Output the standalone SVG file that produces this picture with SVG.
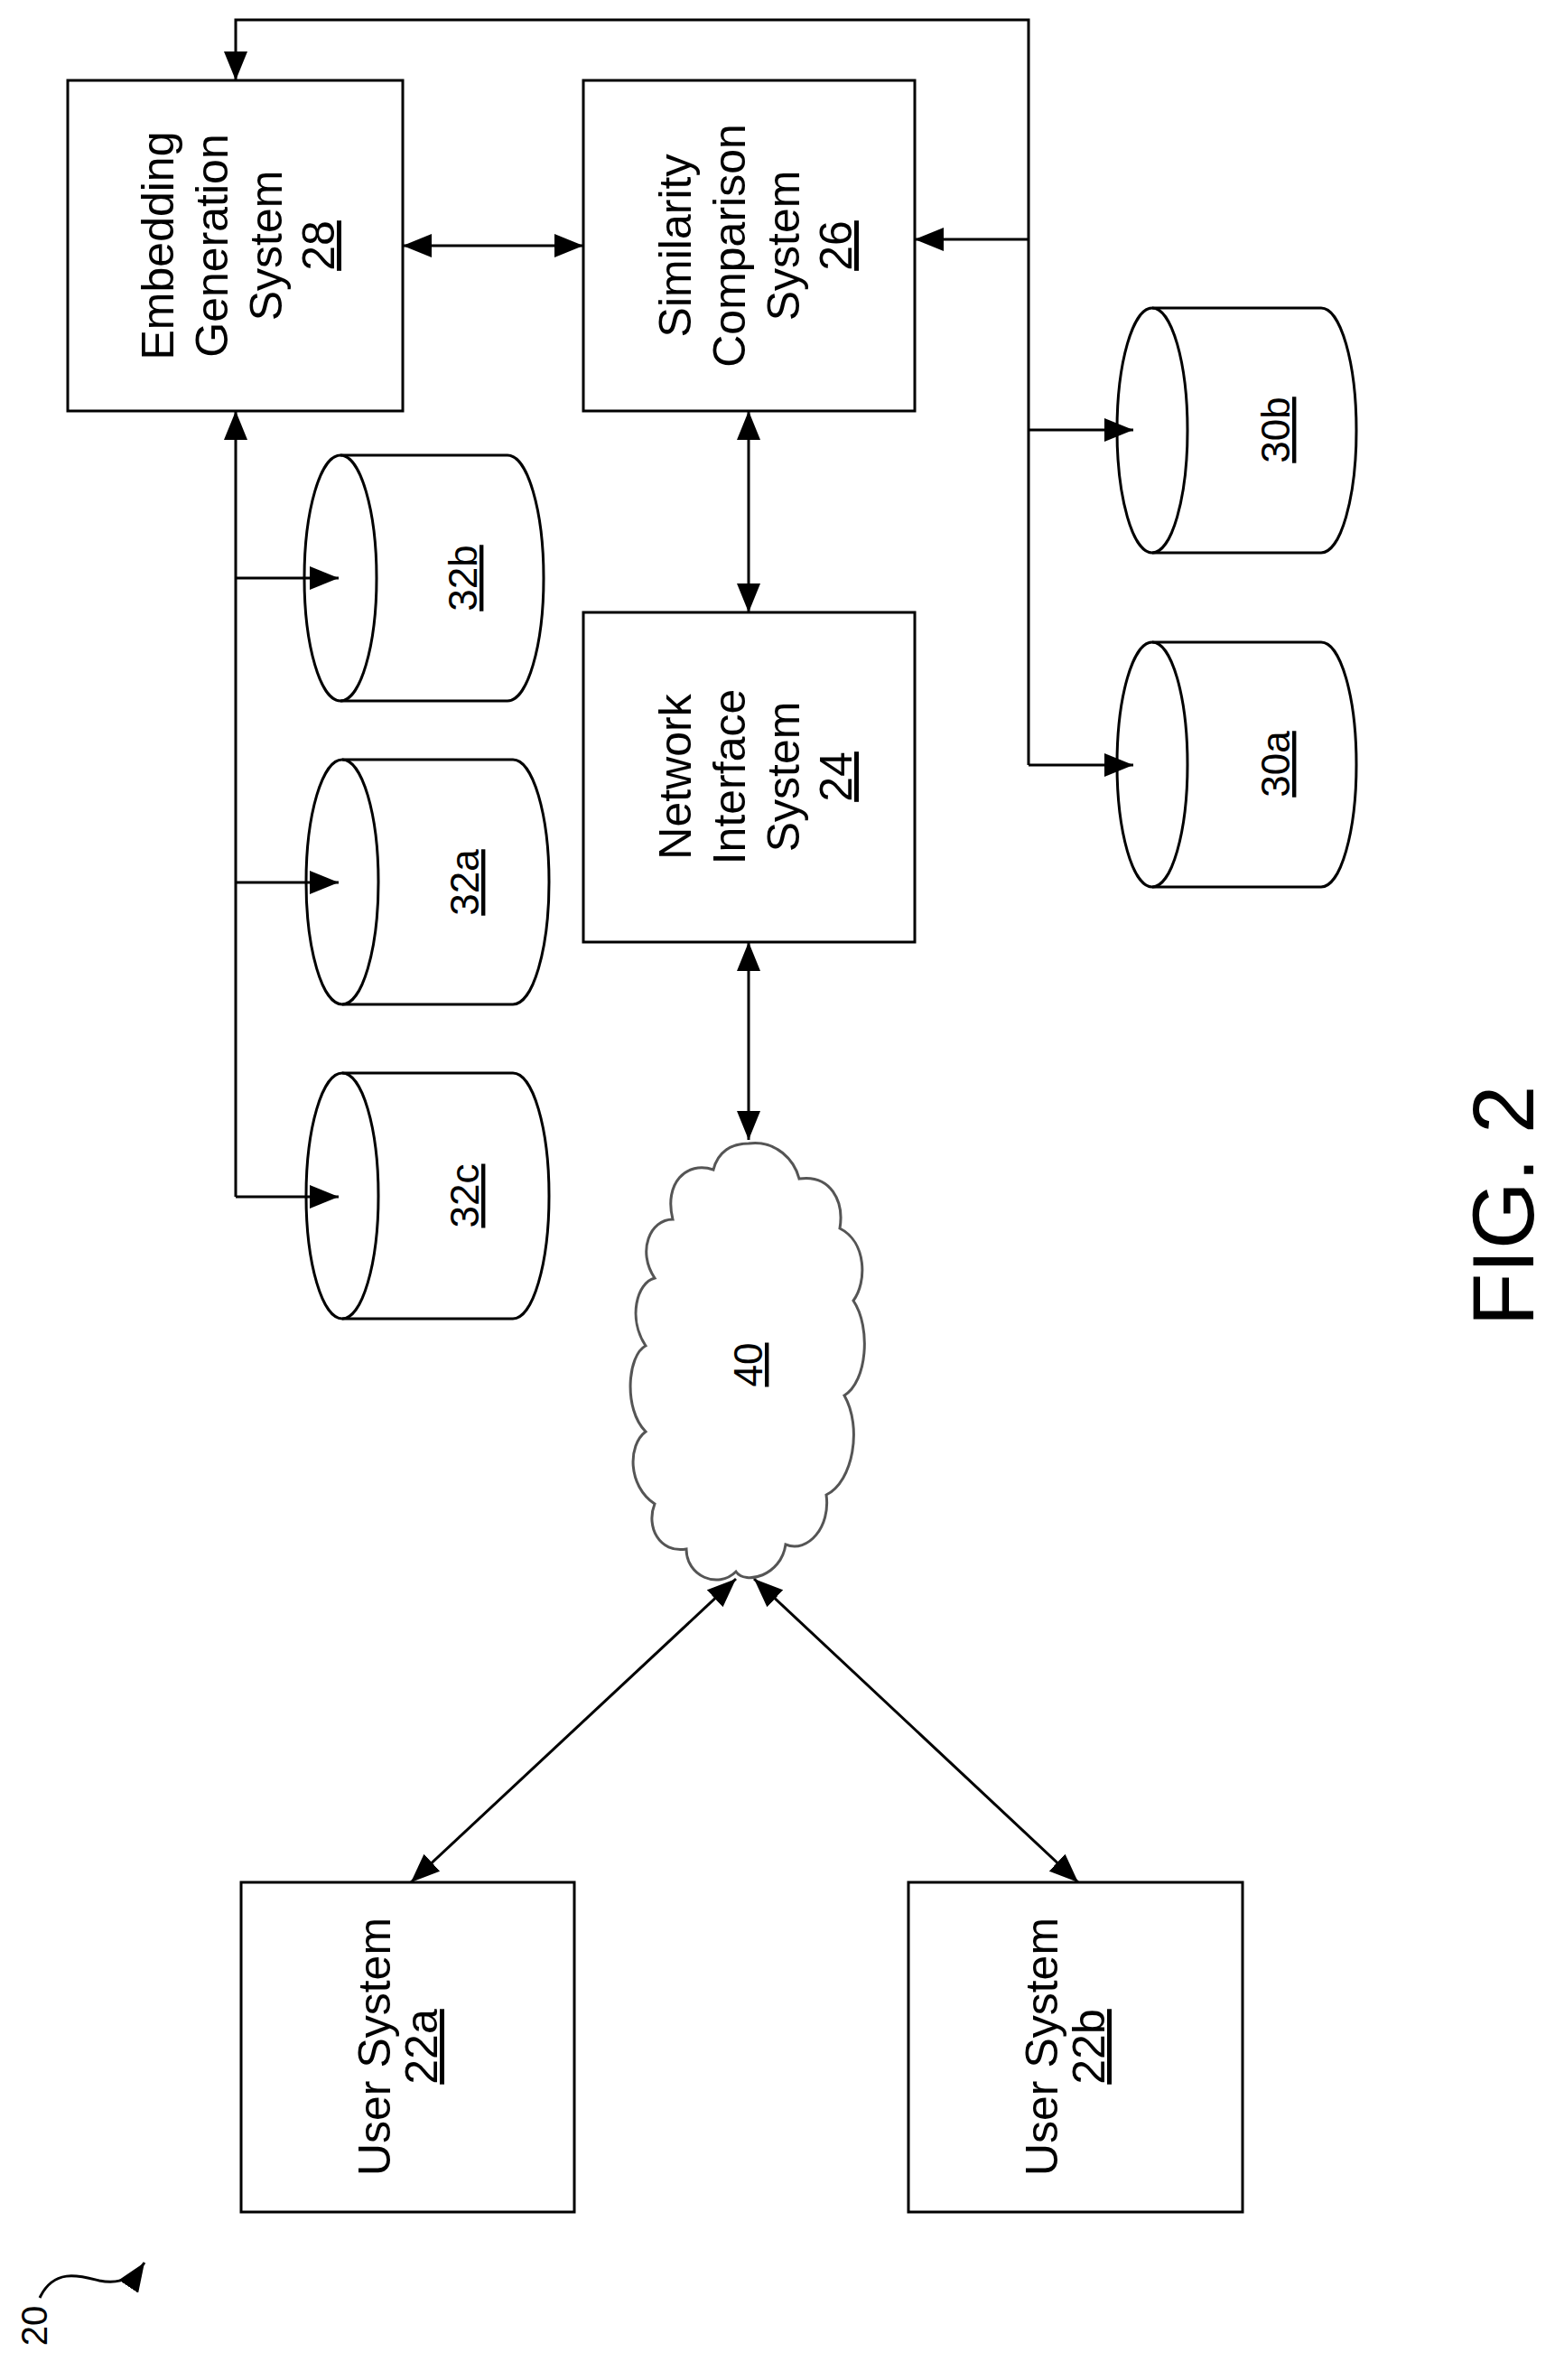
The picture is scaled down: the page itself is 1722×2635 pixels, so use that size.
<svg xmlns="http://www.w3.org/2000/svg" width="1722" height="2635" viewBox="0 0 1722 2635">
<defs>
<marker id="ah" viewBox="0 0 32 26" refX="32" refY="13" markerWidth="32" markerHeight="26" markerUnits="userSpaceOnUse" orient="auto-start-reverse"><path d="M0,0 L32,13 L0,26 Z" fill="#000"/></marker>
</defs>
<style>
.b{fill:#fff;stroke:#000;stroke-width:3}
.c{fill:none;stroke:#000;stroke-width:3}
.t{font-family:"Liberation Sans",Arial,sans-serif;font-size:50px;text-anchor:middle;fill:#000}
.s{font-family:"Liberation Sans",Arial,sans-serif;font-size:44px;text-anchor:middle;fill:#000}
.u{text-decoration:underline}
.l{fill:none;stroke:#000;stroke-width:3}
</style>
<rect width="1722" height="2635" fill="#fff"/>
<g id="connectors">
<path class="l" d="M1139,847 V22 H261 V89" marker-end="url(#ah)"/>
<path class="l" d="M1139,265 H1013" marker-end="url(#ah)"/>
<path class="l" d="M1139,476 H1255" marker-end="url(#ah)"/>
<path class="l" d="M1139,847 H1255" marker-end="url(#ah)"/>
<path class="l" d="M446,272 H646" marker-start="url(#ah)" marker-end="url(#ah)"/>
<path class="l" d="M261,1325 V455" marker-end="url(#ah)"/>
<path class="l" d="M261,640 H375" marker-end="url(#ah)"/>
<path class="l" d="M261,977 H375" marker-end="url(#ah)"/>
<path class="l" d="M261,1325 H375" marker-end="url(#ah)"/>
<path class="l" d="M829,455 V678" marker-start="url(#ah)" marker-end="url(#ah)"/>
<path class="l" d="M829,1043 V1262" marker-start="url(#ah)" marker-end="url(#ah)"/>
<path class="l" d="M815,1748 L455,2084" marker-start="url(#ah)" marker-end="url(#ah)"/>
<path class="l" d="M835,1748 L1194,2084" marker-start="url(#ah)" marker-end="url(#ah)"/>
<path class="l" d="M44,2544 C60,2510 90,2520 110,2525 C135,2530 150,2520 160,2505" marker-end="url(#ah)"/>
</g>
<g id="n28"><rect class="b" x="75" y="89" width="371" height="366"/>
<g transform="translate(0,272) rotate(-90)"><text class="t" x="0" y="192">Embedding</text><text class="t" x="0" y="252">Generation</text><text class="t" x="0" y="312">System</text><text class="t u" x="0" y="370">28</text></g></g>
<g id="n26"><rect class="b" x="646" y="89" width="367" height="366"/>
<g transform="translate(0,272) rotate(-90)"><text class="t" x="0" y="765">Similarity</text><text class="t" x="0" y="825">Comparison</text><text class="t" x="0" y="885">System</text><text class="t u" x="0" y="943">26</text></g></g>
<g id="n24"><rect class="b" x="646" y="678" width="367" height="365"/>
<g transform="translate(0,860) rotate(-90)"><text class="t" x="0" y="765">Network</text><text class="t" x="0" y="825">Interface</text><text class="t" x="0" y="885">System</text><text class="t u" x="0" y="943">24</text></g></g>
<g id="n30b"><path class="c" d="M1276,341 H1463 A39,135.5 0 0 1 1463,612 H1276"/><ellipse class="c" cx="1276" cy="476.5" rx="39" ry="135.5"/>
<text class="s u" transform="translate(1428,476) rotate(-90)">30b</text></g>
<g id="n30a"><path class="c" d="M1276,711 H1463 A39,135.5 0 0 1 1463,982 H1276"/><ellipse class="c" cx="1276" cy="846.5" rx="39" ry="135.5"/>
<text class="s u" transform="translate(1428,846) rotate(-90)">30a</text></g>
<g id="n32b"><path class="c" d="M377,504 H562 A40,136 0 0 1 562,776 H377"/><ellipse class="c" cx="377" cy="640" rx="40" ry="136"/>
<text class="s u" transform="translate(528,640) rotate(-90)">32b</text></g>
<g id="n32a"><path class="c" d="M379,841 H568 A40,135.5 0 0 1 568,1112 H379"/><ellipse class="c" cx="379" cy="976.5" rx="40" ry="135.5"/>
<text class="s u" transform="translate(530,977) rotate(-90)">32a</text></g>
<g id="n32c"><path class="c" d="M379,1188 H568 A40,136 0 0 1 568,1460 H379"/><ellipse class="c" cx="379" cy="1324" rx="40" ry="136"/>
<text class="s u" transform="translate(530,1324) rotate(-90)">32c</text></g>
<g id="n40"><path fill="#fff" stroke="#555" stroke-width="3" d="M829,1266 C860,1262 880,1285 885,1305 C920,1300 935,1330 930,1360 C960,1375 960,1420 945,1440 C965,1470 960,1530 935,1545 C955,1580 945,1640 915,1655 C920,1690 895,1720 870,1710 C865,1745 825,1755 815,1740 C795,1760 760,1745 760,1715 C730,1720 715,1690 725,1665 C695,1645 695,1600 715,1585 C690,1560 695,1500 715,1490 C695,1460 705,1420 725,1415 C705,1385 720,1350 745,1350 C735,1310 760,1285 790,1295 C795,1275 810,1266 829,1266 Z"/>
<text class="s u" transform="translate(844,1511) rotate(-90)">40</text></g>
<g id="n22a"><rect class="b" x="267" y="2084" width="369" height="365"/>
<g transform="translate(0,2266) rotate(-90)"><text class="t" x="0" y="432">User System</text><text class="t u" x="0" y="484">22a</text></g></g>
<g id="n22b"><rect class="b" x="1006" y="2084" width="370" height="365"/>
<g transform="translate(0,2266) rotate(-90)"><text class="t" x="0" y="1171">User System</text><text class="t u" x="0" y="1223">22b</text></g></g>
<text class="s" transform="translate(52,2575) rotate(-90)" style="font-size:40px">20</text>
<text class="t" transform="translate(1698,1335) rotate(-90)" style="font-size:96px">FIG. 2</text>
</svg>
